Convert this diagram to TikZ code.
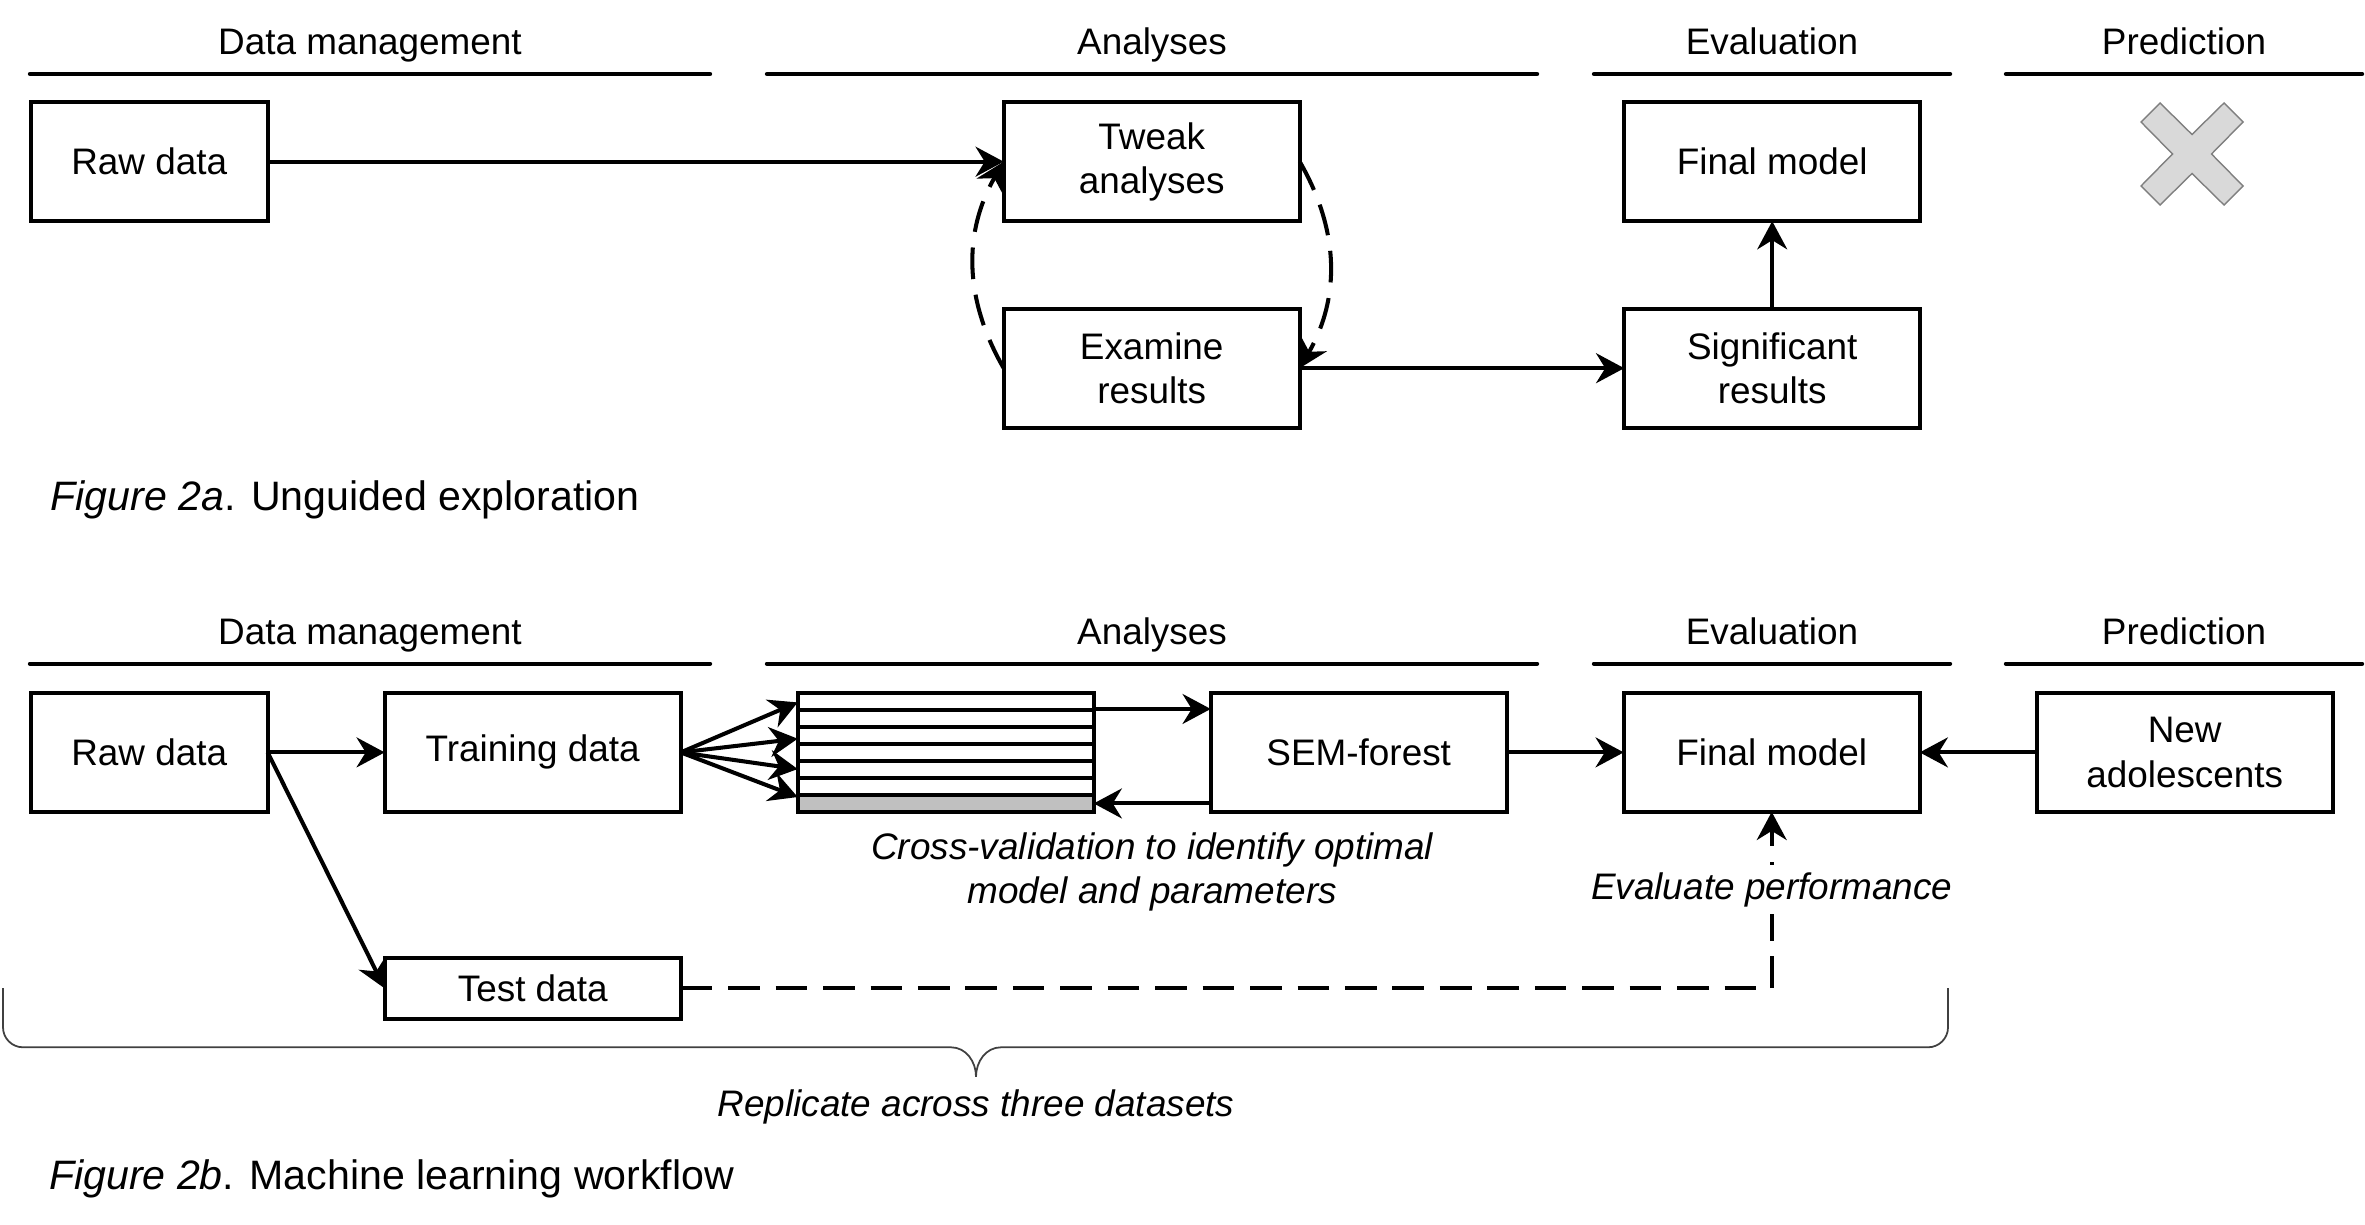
\documentclass[tikz,border=0pt]{standalone}
\usepackage{fontspec}
\setmainfont{Liberation Sans}
\usetikzlibrary{positioning,arrows.meta,calc}
\definecolor{foldgray}{HTML}{C0C0C0}
\definecolor{crossfill}{HTML}{D9D9D9}
\definecolor{crossline}{HTML}{7F7F7F}

\begin{document}
\begin{tikzpicture}[
                node distance=1.17cm,
                font=\fontsize{10.5}{12.6}\selectfont,
                box/.style={draw, line width=1.15pt, minimum width=2.96cm, minimum height=1.19cm, align=center, inner sep=2pt, outer sep=0pt},
                rule/.style={line width=1.25pt, line cap=round},
                arr/.style={line width=1.15pt, -{Stealth[length=8pt, width=8.5pt]}},
                dasharr/.style={arr, dash pattern=on 9pt off 4.5pt},
                note/.style={font=\fontsize{10.5}{12.6}\selectfont\itshape, align=center, inner sep=2pt},
                caption/.style={font=\fontsize{11.7}{14}\selectfont, anchor=base west, inner sep=0pt}
            ]
                \useasboundingbox (0,0) rectangle (23.65,-12.25);

                % Column headings (both panels)
                \foreach \dy/\panel in {0/a, -5.897/b}{
                    \foreach \xa/\xb/\lab [count=\i] in {0.30/7.10/Data management, 7.67/15.37/Analyses, 15.94/19.50/Evaluation, 20.06/23.62/Prediction}{
                        \draw[rule] (\xa,\dy-0.74) -- (\xb,\dy-0.74)
                            node[midway, anchor=base, yshift=0.19cm, inner sep=0pt] (head\panel\i) {\lab};
                    }
                }

                % Figure 2a: unguided exploration
                \node[box, minimum width=2.37cm] (raw1) at (1.492,-1.617) {Raw data};
                \node[box, right=7.36cm of raw1] (tweak) {Tweak\\analyses};
                \node[box, below=0.875cm of tweak] (exam) {Examine\\results};
                \node[box, right=3.245cm of tweak] (final1) {Final model};
                \node[box, below=0.875cm of final1] (signif) {Significant\\results};

                \draw[arr] (raw1) -- (tweak);
                \draw[dasharr] (tweak.east) to[bend left=30] (exam.east);
                \draw[dasharr] (exam.west) to[bend left=30] (tweak.west);
                \draw[arr] (exam) -- (signif);
                \draw[arr] (signif) -- (final1);

                % No prediction
                \coordinate (nopred) at (21.92,-1.54);
                \draw[fill=crossfill, draw=crossline, line width=0.4pt, shift={(nopred)}]
                    (0,0.195) -- (0.32,0.51) -- (0.51,0.32) -- (0.195,0) -- (0.51,-0.32) -- (0.32,-0.51)
                    -- (0,-0.195) -- (-0.32,-0.51) -- (-0.51,-0.32) -- (-0.195,0) -- (-0.51,0.32) -- (-0.32,0.51) -- cycle;

                \node[caption] (cap1) at (0.50,-5.107) {\textit{Figure 2a}. Unguided exploration};

                % Figure 2b: machine learning workflow
                \node[box, minimum width=2.37cm] (raw2) at (1.492,-7.524) {Raw data};
                \node[box, right=of raw2] (train) {Training data};
                \node[box, right=of train, path picture={
                        \fill[foldgray] (path picture bounding box.south west) rectangle ($(path picture bounding box.south east)!1/7!(path picture bounding box.north east)$);
                        \foreach \k in {1,...,6}
                            \draw[line width=1.15pt] ($(path picture bounding box.south west)!\k/7!(path picture bounding box.north west)$) -- ($(path picture bounding box.south east)!\k/7!(path picture bounding box.north east)$);
                    }] (folds) {};
                \node[box, right=of folds] (sem) {SEM-forest};
                \node[box, right=of sem] (final2) {Final model};
                \node[box, right=of final2] (newad) {New\\adolescents};
                \node[box, minimum height=0.61cm, below=1.46cm of train] (test) {Test data};

                \draw[arr] (raw2) -- (train);
                \draw[arr] (raw2.east) -- (test.west);
                \foreach \f in {0.08,0.385,0.64,0.875}
                    \draw[arr] (train.east) -- ($(folds.north west)!\f!(folds.south west)$);
                \coordinate (foldout) at ($(folds.north east)!0.135!(folds.south east)$);
                \coordinate (foldin) at ($(folds.north east)!0.929!(folds.south east)$);
                \draw[arr] (foldout) -- (foldout -| sem.west);
                \draw[arr] (foldin -| sem.west) -- (foldin);
                \draw[arr] (sem) -- (final2);
                \draw[arr] (newad) -- (final2);
                \draw[dasharr] (test.east) -| node[note, fill=white, pos=0.78] (evalp) {Evaluate performance} (final2.south);

                % Annotation
                \coordinate (cvmid) at ($(folds.south)!0.5!(sem.south)$);
                \node[note, below=0.13cm of cvmid] (cvnote) {Cross-validation to identify optimal\\model and parameters};

                % Brace round the workflow
                \coordinate (bracetip) at (9.76,-10.767);
                \draw[line width=0.5pt, black!75] (0.03,-9.88) -- (0.03,-10.273) arc[start angle=180, end angle=270, radius=0.2]
                    -- (9.51,-10.473) to[out=0, in=90] (bracetip) to[out=90, in=180] (10.01,-10.473)
                    -- (19.28,-10.473) arc[start angle=270, end angle=360, radius=0.2] -- (19.48,-9.88);
                \node[note, anchor=base, inner sep=0pt] (repl) at (9.76,-11.167) {Replicate across three datasets};

                \node[caption] (cap2) at (0.485,-11.894) {\textit{Figure 2b}. Machine learning workflow};
            \end{tikzpicture}
\end{document}
